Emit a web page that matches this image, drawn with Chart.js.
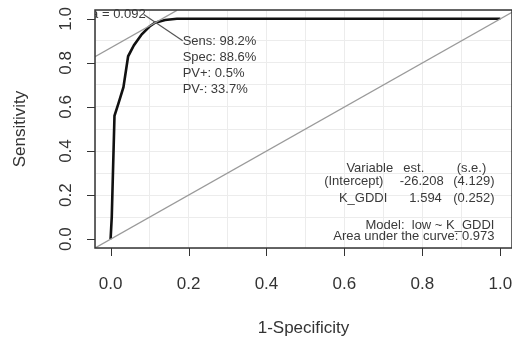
<!DOCTYPE html>
<html>
<head>
<meta charset="utf-8">
<script src="https://cdn.jsdelivr.net/npm/chart.js@4/dist/chart.umd.min.js"></script>
<style>
  body { margin: 0; background: #fff; }
  #wrap { width: 512px; height: 340px; }
</style>
</head>
<body>
<div id="wrap"><canvas id="roc" width="512" height="340"></canvas></div>
<script>
// ROC curve (1-specificity, sensitivity)
const rocFpr  = [0, 0.003, 0.01, 0.02, 0.033, 0.045, 0.06, 0.08, 0.1, 0.114, 0.14, 0.17, 1.0];
const rocSens = [0, 0.1, 0.56, 0.615, 0.69, 0.83, 0.88, 0.93, 0.965, 0.982, 0.995, 1.0, 1.0];

// optimal cut point
const optFpr = 0.114;
const optSens = 0.982;
const cutLabel = "lr.eta = 0.092";
const optLines = ["Sens: 98.2%", "Spec: 88.6%", "PV+: 0.5%", "PV-: 33.7%"];

// model table
const tableHead = ["Variable", "est.", "(s.e.)"];
const tableRows = [
  ["(Intercept)", "-26.208", "(4.129)"],
  ["K_GDDI", "1.594", "(0.252)"]
];
const modelText = "Model:  low ~ K_GDDI";
const aucText = "Area under the curve: 0.973";

const tickValues = [0, 0.2, 0.4, 0.6, 0.8, 1.0];
const xMin = -0.04, xMax = 1.03, yMin = -0.04, yMax = 1.04;

const FONT = '"Liberation Sans", Arial, sans-serif';

function pts(xs, ys) {
  return xs.map((x, i) => ({ x: x, y: ys[i] }));
}

const rPlot = {
  id: 'rPlot',
  afterDatasetsDraw(chart) {
    const ctx = chart.ctx;
    const a = chart.chartArea;
    const xs = chart.scales.x, ys = chart.scales.y;
    const X = v => xs.getPixelForValue(v);
    const Y = v => ys.getPixelForValue(v);
    ctx.save();

    // box
    ctx.strokeStyle = '#333';
    ctx.lineWidth = 1.5;
    ctx.strokeRect(a.left, a.top, a.right - a.left, a.bottom - a.top);

    // ticks + labels
    ctx.fillStyle = '#333';
    ctx.strokeStyle = '#333';
    ctx.lineWidth = 1;
    ctx.font = '17px ' + FONT;
    tickValues.forEach(v => {
      const px = Math.round(X(v)) + 0.5;
      ctx.beginPath();
      ctx.moveTo(px, a.bottom);
      ctx.lineTo(px, a.bottom + 8);
      ctx.stroke();
      ctx.textAlign = 'center';
      ctx.textBaseline = 'middle';
      ctx.fillText(v.toFixed(1), X(v), a.bottom + 36);

      const py = Math.round(Y(v)) + 0.5;
      ctx.beginPath();
      ctx.moveTo(a.left, py);
      ctx.lineTo(a.left - 8, py);
      ctx.stroke();
      ctx.save();
      ctx.translate(a.left - 29, Y(v));
      ctx.rotate(-Math.PI / 2);
      ctx.fillText(v.toFixed(1), 0, 0);
      ctx.restore();
    });

    // axis titles
    ctx.textAlign = 'center';
    ctx.textBaseline = 'middle';
    ctx.fillText('1-Specificity', (a.left + a.right) / 2, 328);
    ctx.save();
    ctx.translate(20, (a.top + a.bottom) / 2);
    ctx.rotate(-Math.PI / 2);
    ctx.fillText('Sensitivity', 0, 0);
    ctx.restore();

    // annotations
    ctx.font = '13px ' + FONT;
    ctx.fillStyle = '#3a3a3a';
    ctx.save();
    ctx.beginPath();
    ctx.rect(a.left, 0, a.right - a.left, a.bottom);
    ctx.clip();
    ctx.textAlign = 'right';
    ctx.fillText(cutLabel, X(0.09), Y(1.02));
    ctx.restore();

    ctx.textAlign = 'left';
    optLines.forEach((t, i) => {
      ctx.fillText(t, X(0.185), Y(0.897 - i * 0.0722));
    });

    // table, right aligned columns
    const colRight = [[0.725, 0.7, 0.71], [0.805, 0.855, 0.85], [0.964, 0.985, 0.985]];
    const rowY = [0.32, 0.26, 0.187];
    ctx.textAlign = 'right';
    tableHead.forEach((t, c) => ctx.fillText(t, X(colRight[c][0]), Y(rowY[0])));
    tableRows.forEach((row, r) => {
      row.forEach((t, c) => ctx.fillText(t, X(colRight[c][r + 1]), Y(rowY[r + 1])));
    });
    ctx.fillText(modelText, X(0.985), Y(0.063));
    ctx.fillText(aucText, X(0.985), Y(0.012));

    ctx.restore();
  }
};

new Chart(document.getElementById('roc'), {
  type: 'scatter',
  data: {
    datasets: [
      {
        // chance diagonal
        data: pts([xMin, xMax], [xMin, xMax]),
        showLine: true, borderColor: '#9a9a9a', borderWidth: 1.3,
        pointRadius: 0, clip: 0
      },
      {
        // slope-1 line through the optimum
        data: pts([xMin, 0.17], [xMin + optSens - optFpr, 0.17 + optSens - optFpr]),
        showLine: true, borderColor: '#9a9a9a', borderWidth: 1.3,
        pointRadius: 0, clip: 0
      },
      {
        // leader line to the label
        data: pts([0.085, 0.185], [1.02, 0.90]),
        showLine: true, borderColor: '#555', borderWidth: 1.2,
        pointRadius: 0, clip: 0
      },
      {
        data: pts(rocFpr, rocSens),
        showLine: true, borderColor: '#111', borderWidth: 2.6,
        pointRadius: 0, tension: 0, clip: 0
      }
    ]
  },
  options: {
    responsive: false,
    animation: false,
    layout: { padding: { left: 95, top: 10, right: 0, bottom: 92 } },
    plugins: { legend: { display: false }, tooltip: { enabled: false } },
    scales: {
      x: {
        type: 'linear', min: xMin, max: xMax,
        ticks: { display: false, stepSize: 0.1 },
        grid: { color: '#ececec', drawTicks: false, lineWidth: 1 },
        border: { display: false }
      },
      y: {
        type: 'linear', min: yMin, max: yMax,
        ticks: { display: false, stepSize: 0.1 },
        grid: { color: '#ececec', drawTicks: false, lineWidth: 1 },
        border: { display: false }
      }
    }
  },
  plugins: [rPlot]
});
</script>
</body>
</html>
